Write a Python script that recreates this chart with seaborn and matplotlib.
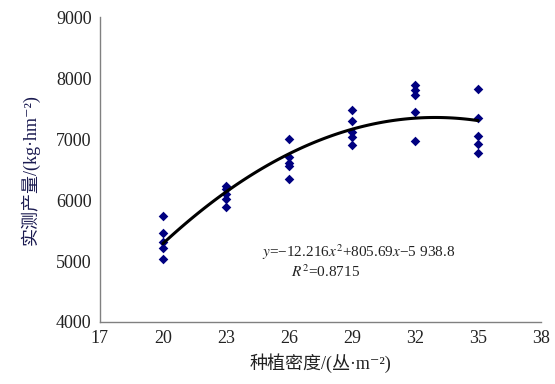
import matplotlib
matplotlib.use("Agg")
import matplotlib.pyplot as plt
import numpy as np
import pandas as pd
import seaborn as sns

# planting density (clumps per m2) and measured yield (kg per hm2)
density = [20] * 5 + [23] * 5 + [26] * 5 + [29] * 5 + [32] * 5 + [35] * 5
yield_obs = [5740, 5460, 5310, 5210, 5030,
             6230, 6180, 6100, 6020, 5880,
             7000, 6700, 6600, 6550, 6350,
             7475, 7295, 7115, 7033, 6902,
             7885, 7803, 7721, 7443, 6967,
             7820, 7344, 7049, 6918, 6770]

x_ticks = [17, 20, 23, 26, 29, 32, 35, 38]
y_ticks = [4000, 5000, 6000, 7000, 8000, 9000]
eq_text = r"$y$=−12.216$x^2$+805.69$x$−5 938.8"
r2_text = r"$R^2$=0.8715"

df = pd.DataFrame({"density": density, "yield": yield_obs})

sns.set_theme(style="white")
plt.rcParams["font.family"] = ["Liberation Serif", "Noto Sans CJK SC", "DejaVu Sans"]
plt.rcParams["mathtext.fontset"] = "stix"

fig = plt.figure(figsize=(5.55, 3.84), dpi=100)
ax = fig.add_axes([0.18, 0.1615, 0.795, 0.794])

sns.regplot(data=df, x="density", y="yield", order=2, ci=None, ax=ax, marker="D",
            scatter_kws=dict(s=24, color="#000080", linewidths=0, alpha=1),
            line_kws=dict(color="black", lw=2.2))

ax.set_xlim(17, 38)
ax.set_ylim(4000, 9000)
ax.set_xticks(x_ticks)
ax.set_yticks(y_ticks)
ax.tick_params(direction="in", length=5, width=0.8, color="#808080", labelsize=13,
               labelcolor="#222222", pad=6)
for side in ["top", "right"]:
    ax.spines[side].set_visible(False)
for side in ["left", "bottom"]:
    ax.spines[side].set_color("#808080")
    ax.spines[side].set_linewidth(1)

ax.set_xlabel("种植密度/(丛·m⁻²)", fontsize=13, labelpad=4, color="#222222")
ax.set_ylabel("实测产量/(kg·hm⁻²)", fontsize=13, labelpad=12, color="#1a1a50")

ax.text(24.7, 5150, eq_text, fontsize=11, va="center", ha="left", color="#222222")
ax.text(26.1, 4820, r2_text, fontsize=11, va="center", ha="left", color="#222222")

plt.savefig("out.png", dpi=100)
plt.close()
